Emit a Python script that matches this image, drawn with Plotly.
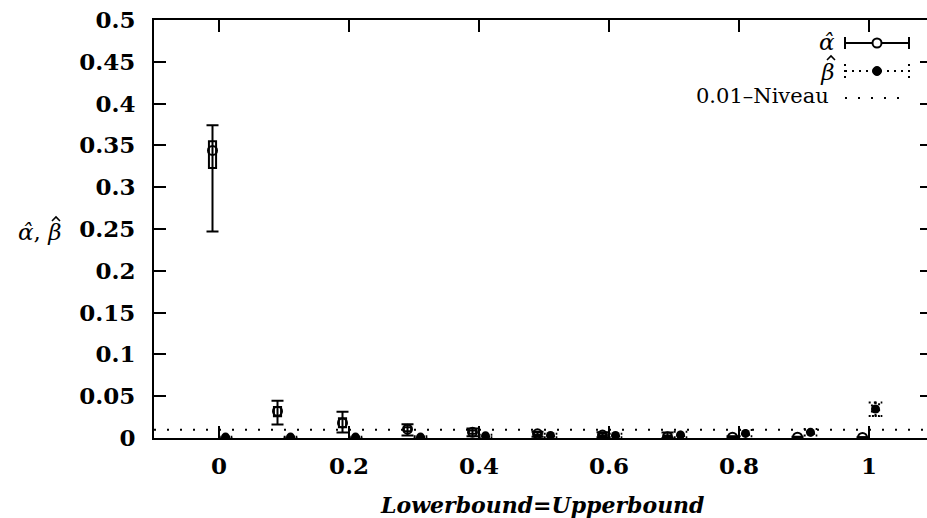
import plotly.graph_objects as go

# ---------------- data ----------------
bounds = [0.0, 0.1, 0.2, 0.3, 0.4, 0.5, 0.6, 0.7, 0.8, 0.9, 1.0]

alpha_mean = [0.344, 0.032, 0.018, 0.0105, 0.007, 0.005, 0.0035, 0.0015, 0.001, 0.001, 0.0006]
alpha_q1   = [0.323, 0.026, 0.013, 0.008, 0.005, 0.0035, 0.0025, 0.001, 0.0006, 0.0006, 0.0003]
alpha_q3   = [0.355, 0.037, 0.0235, 0.013, 0.009, 0.0065, 0.005, 0.003, 0.0015, 0.0012, 0.0009]
alpha_min  = [0.247, 0.016, 0.0065, 0.003, 0.002, 0.0015, 0.001, 0.0, 0.0, 0.0, 0.0]
alpha_max  = [0.374, 0.0445, 0.0315, 0.0165, 0.0115, 0.0076, 0.0068, 0.0065, 0.002, 0.0015, 0.001]

beta_mean = [0.0011, 0.0011, 0.0011, 0.0011, 0.0026, 0.003, 0.003, 0.0036, 0.0055, 0.0068, 0.0347]
beta_q1   = [0.0005, 0.0005, 0.0005, 0.0005, 0.0015, 0.002, 0.002, 0.0025, 0.004, 0.005, 0.0263]
beta_q3   = [0.0015, 0.0015, 0.0015, 0.0015, 0.0035, 0.004, 0.004, 0.005, 0.007, 0.009, 0.0426]
beta_min  = [0.0, 0.0, 0.0, 0.0, 0.001, 0.001, 0.001, 0.001, 0.002, 0.003, 0.0263]
beta_max  = [0.0015, 0.0015, 0.0015, 0.002, 0.004, 0.005, 0.005, 0.0076, 0.0096, 0.0108, 0.0426]

level = 0.01

y_ticks = [0, 0.05, 0.1, 0.15, 0.2, 0.25, 0.3, 0.35, 0.4, 0.45, 0.5]
y_ticktext = ["0", "0.05", "0.1", "0.15", "0.2", "0.25", "0.3", "0.35", "0.4", "0.45", "0.5"]
x_ticks = [0, 0.2, 0.4, 0.6, 0.8, 1.0]
x_ticktext = ["0", "0.2", "0.4", "0.6", "0.8", "1"]

# legend labels (α̂ above, β with a drawn hat below)
legend_labels = "<i>α̂</i><br><i>β</i>"
label_level = "0.01–Niveau"
x_title = "<i>Lowerbound=Upperbound</i>"
y_title = "<i>α̂</i>, <i>β</i>"

# ---------------- style ----------------
W, H = 927, 518
ML, MT, MB, MR = 154, 20, 80, 0
PW, PH = W - ML - MR, H - MT - MB
SHIFT = 0.01          # horizontal offset between the two series
BOXW = 0.011          # box width (data units)
CAP = 0.0105          # half cap width (data units)
FONT = "DejaVu Serif"
BLACK = "black"


def px(xp):
    return (xp - ML) / PW


def py(yp):
    return (H - MB - yp) / PH


def hat(cx, top, hw=4.5, hh=4.5):
    """Small circumflex drawn as a path (paper coordinates from pixel positions)."""
    return dict(type="path", xref="paper", yref="paper",
                path=f"M {px(cx - hw)} {py(top + hh)} L {px(cx)} {py(top)} L {px(cx + hw)} {py(top + hh)}",
                line=dict(color=BLACK, width=1.6))


xa = [b - SHIFT for b in bounds]
xb = [b + SHIFT for b in bounds]

fig = go.Figure()

# alpha boxes
fig.add_trace(go.Bar(
    x=xa, base=alpha_q1, y=[h - l for h, l in zip(alpha_q3, alpha_q1)],
    width=BOXW, marker=dict(color="rgba(0,0,0,0)", line=dict(color=BLACK, width=2)),
    showlegend=False, hoverinfo="skip"))

# alpha whiskers + means
fig.add_trace(go.Scatter(
    x=xa, y=alpha_mean, mode="markers",
    marker=dict(symbol="circle-open", size=9, color=BLACK, line=dict(width=2)),
    error_y=dict(type="data", symmetric=False,
                 array=[h - m for h, m in zip(alpha_max, alpha_mean)],
                 arrayminus=[m - l for m, l in zip(alpha_mean, alpha_min)],
                 color=BLACK, thickness=2, width=6),
    showlegend=False))

# beta dotted whiskers and boxes
bx, by = [], []
for x, lo, hi, q1, q3 in zip(xb, beta_min, beta_max, beta_q1, beta_q3):
    bx += [x, x, None, x - CAP, x + CAP, None, x - CAP, x + CAP, None]
    by += [lo, hi, None, hi, hi, None, lo, lo, None]
    bx += [x - BOXW / 2, x + BOXW / 2, x + BOXW / 2, x - BOXW / 2, x - BOXW / 2, None]
    by += [q1, q1, q3, q3, q1, None]
fig.add_trace(go.Scatter(
    x=bx, y=by, mode="lines", line=dict(color=BLACK, width=2, dash="2px,4px"),
    showlegend=False, hoverinfo="skip"))

fig.add_trace(go.Scatter(
    x=xb, y=beta_mean, mode="markers",
    marker=dict(symbol="circle", size=9, color=BLACK),
    showlegend=False))

# invisible trace for right-side tick axis
fig.add_trace(go.Scatter(x=[bounds[0]], y=[level], yaxis="y2", mode="markers",
                         marker=dict(opacity=0), showlegend=False, hoverinfo="skip"))

shapes = []
# 0.01 level line
shapes.append(dict(type="line", xref="paper", yref="y", x0=0, x1=1, y0=level, y1=level,
                   line=dict(color=BLACK, width=2, dash="2px,11px"), layer="below"))

# ---- custom legend ----
lx0, lx1, lxc = 845, 909, 877
ya = 43
shapes.append(dict(type="line", xref="paper", yref="paper", x0=px(lx0), x1=px(lx1),
                   y0=py(ya), y1=py(ya), line=dict(color=BLACK, width=2)))
for xx in (lx0, lx1):
    shapes.append(dict(type="line", xref="paper", yref="paper", x0=px(xx), x1=px(xx),
                       y0=py(ya - 6), y1=py(ya + 6), line=dict(color=BLACK, width=2)))
shapes.append(dict(type="circle", xref="paper", yref="paper", xsizemode="pixel",
                   ysizemode="pixel", xanchor=px(lxc), yanchor=py(ya),
                   x0=-4.5, x1=4.5, y0=-4.5, y1=4.5,
                   fillcolor="white", line=dict(color=BLACK, width=2)))
yb = 71
shapes.append(dict(type="line", xref="paper", yref="paper", x0=px(lx0), x1=px(lx1),
                   y0=py(yb), y1=py(yb), line=dict(color=BLACK, width=2, dash="2px,5px")))
for xx in (lx0, lx1):
    shapes.append(dict(type="line", xref="paper", yref="paper", x0=px(xx), x1=px(xx),
                       y0=py(yb - 7), y1=py(yb + 7), line=dict(color=BLACK, width=2, dash="2px,4px")))
shapes.append(dict(type="circle", xref="paper", yref="paper", xsizemode="pixel",
                   ysizemode="pixel", xanchor=px(lxc), yanchor=py(yb),
                   x0=-4.5, x1=4.5, y0=-4.5, y1=4.5,
                   fillcolor=BLACK, line=dict(color=BLACK, width=1)))
yl = 98
shapes.append(dict(type="line", xref="paper", yref="paper", x0=px(lx0), x1=px(lx1),
                   y0=py(yl), y1=py(yl), line=dict(color=BLACK, width=2, dash="2px,11px")))

# hats over the beta glyphs
shapes.append(hat(831, 56, hw=4, hh=4))
shapes.append(hat(56, 217, hw=4, hh=4))

annotations = [
    dict(text=legend_labels, xref="paper", yref="paper", x=px(837), y=py(57),
         xanchor="right", yanchor="middle", align="right", showarrow=False,
         font=dict(size=23, family=FONT)),
    dict(text=label_level, xref="paper", yref="paper", x=px(831), y=py(96),
         xanchor="right", yanchor="middle", showarrow=False, font=dict(size=21, family=FONT)),
    dict(text=x_title, xref="paper", yref="paper", x=px(542), y=py(505),
         xanchor="center", yanchor="middle", showarrow=False,
         font=dict(size=22, family=FONT, weight="bold")),
    dict(text=y_title, xref="paper", yref="paper", x=px(63), y=py(232),
         xanchor="right", yanchor="middle", showarrow=False,
         font=dict(size=23, family=FONT)),
]

axis_font = dict(family=FONT, size=23, color=BLACK, weight="bold")
fig.update_layout(
    width=W, height=H,
    margin=dict(l=ML, r=MR, t=MT, b=MB, pad=0),
    plot_bgcolor="white", paper_bgcolor="white",
    barmode="overlay", showlegend=False,
    font=dict(family=FONT, color=BLACK),
    xaxis=dict(range=[-0.1, -0.1 + PW / 650.0], tickvals=x_ticks, ticktext=x_ticktext,
               ticks="inside", ticklen=12, tickwidth=2, tickcolor=BLACK,
               showline=True, linewidth=2, linecolor=BLACK, mirror="ticks",
               showgrid=False, zeroline=False, tickfont=axis_font, ticklabelstandoff=6),
    yaxis=dict(range=[0, 0.5], tickvals=y_ticks, ticktext=y_ticktext,
               ticks="inside", ticklen=12, tickwidth=2, tickcolor=BLACK,
               showline=True, linewidth=2, linecolor=BLACK,
               showgrid=False, zeroline=False, tickfont=axis_font, ticklabelstandoff=12),
    yaxis2=dict(range=[0, 0.5], tickvals=y_ticks, overlaying="y", side="right", anchor="x",
                ticks="inside", ticklen=7, tickwidth=2, tickcolor=BLACK,
                showticklabels=False, showline=False, showgrid=False, zeroline=False),
    shapes=shapes, annotations=annotations,
)

fig.write_html("out.html", config={"displayModeBar": False},
               post_script="document.body.style.margin='0';document.body.style.overflow='hidden';")
